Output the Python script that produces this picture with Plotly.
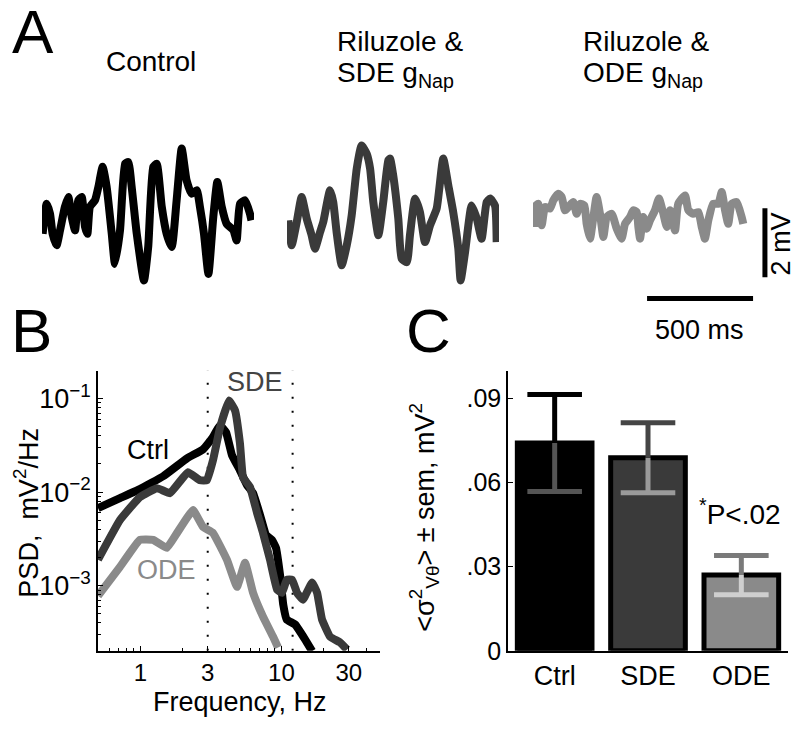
import plotly.graph_objects as go

# The page body keeps its default 8px margin; the figure fills the visible page.
# Positions below are written in reference-picture pixels and converted.
WIN_W, OFF = 800, 8
VIEW_H = 745          # page height that ends up shown as 730 px
REF_H = 730
W, H = WIN_W - 2 * OFF, VIEW_H - 2 * OFF
FONT = "Liberation Sans, Arial, Helvetica, sans-serif"


def px(x):
    return (x - OFF) / W


def py(y):
    return 1 - (y * VIEW_H / REF_H - OFF) / H


# ---------------- Panel A: example traces (time in ms, voltage in mV) -------------
CTRL_T = [3, 22, 38, 50, 69, 85, 108, 124, 140, 156, 171, 187, 203, 214, 226, 250, 266, 286,
          305, 329, 344, 368, 392, 407, 423, 447, 481, 501, 525, 541, 565, 588, 612, 635, 659,
          682, 706, 730, 745, 764, 785, 808, 827, 848, 871, 903, 918, 934, 958, 981, 988]
CTRL_V = [-0.39, 0.48, 0.19, -0.39, -0.72, -0.29, 0.39, 0.68, 0.10, -0.29, 0.58, 0.68, -0.19,
          -0.39, 0.39, 0.58, 0.97, 1.55, 0.97, -0.39, -1.26, -0.29, 1.64, 1.69, 0.97, -0.39,
          -1.74, -0.77, 1.55, 1.64, 0.39, -0.39, -0.77, 0.58, 2.08, 1.16, 0.77, 0.87, 0.39,
          -0.39, -1.55, 0.10, 1.11, 0.39, -0.10, -0.29, -0.58, 0.48, 0.58, 0.19, 0.00]

SDE_T = [6, 22, 46, 69, 93, 116, 132, 156, 171, 203, 218, 234, 258, 282, 305, 329, 352, 376,
         392, 407, 431, 454, 478, 486, 501, 525, 541, 565, 580, 604, 627, 651, 675, 706, 737,
         761, 784, 808, 819, 840, 871, 895, 918, 942, 958, 981, 989]
SDE_V = [0.00, -0.72, -0.05, 0.68, 0.05, -0.43, -0.82, -0.34, -0.05, 0.87, 0.53, -0.34, -1.30,
         -0.72, 0.14, 1.50, 2.17, 1.93, 1.50, 0.53, -0.43, 0.53, 1.74, 1.79, 1.30, 0.05, -1.11,
         -1.21, -0.43, 0.63, 0.24, -0.63, -0.14, 0.34, 1.79, 1.01, 0.24, -0.82, -1.74, -0.92,
         0.43, 0.05, -0.53, 0.53, 0.63, 0.43, -0.63]

ODE_T = [6, 9, 25, 41, 57, 80, 96, 119, 135, 151, 167, 190, 206, 222, 242, 253, 269, 285, 300,
         316, 332, 348, 371, 395, 418, 434, 458, 473, 489, 497, 505, 520, 536, 552, 575, 594,
         615, 631, 646, 670, 685, 717, 733, 756, 780, 796, 811, 827, 850, 874, 890, 906, 921,
         937, 961, 984, 992]
ODE_V = [-0.19, 0.39, 0.48, -0.14, 0.39, 0.34, 0.58, 0.77, 0.68, 0.29, 0.39, 0.53, 0.19, 0.48,
         0.43, -0.10, -0.53, 0.10, 0.68, 0.19, -0.48, 0.10, 0.19, -0.24, -0.53, -0.10, 0.10,
         0.29, 0.24, -0.19, -0.53, 0.10, -0.24, 0.00, 0.29, 0.63, 0.19, -0.19, 0.29, -0.29,
         0.48, 0.72, 0.29, 0.19, 0.24, -0.19, -0.53, 0.00, 0.48, 0.48, 0.82, 0.29, -0.10, 0.48,
         0.53, 0.10, -0.10]

SCALE_MS = 500   # horizontal scale bar length
SCALE_MV = 2     # vertical scale bar length

# ---------------- Panel B: power spectra ----------------
CTRL_F = [0.5, 0.716, 0.99, 1.45, 2.14, 2.78, 3.22, 3.67, 4.05, 4.46, 5.08, 5.70, 6.29, 7.05,
          7.77, 8.57, 9.15, 9.77, 10.3, 10.9, 12.5, 14.7, 16.5]
CTRL_P = [0.00676, 0.00863, 0.01076, 0.01479, 0.0230, 0.0287, 0.0375, 0.0516, 0.0435, 0.0248,
          0.0171, 0.0119, 0.00975, 0.00569, 0.00349, 0.00309, 0.00254, 0.00131, 0.000628,
          0.000435, 0.000385, 0.000267, 0.0002]

SDE_F = [0.5, 0.716, 0.99, 1.31, 1.62, 2.17, 2.64, 2.96, 3.27, 3.67, 4.25, 4.69, 5.08, 5.34,
         5.99, 6.72, 7.40, 8.30, 9.31, 10.1, 10.9, 11.9, 12.9, 14.2, 16.5, 17.9, 19.4, 22.1,
         26.0, 29.2]
SDE_P = [0.0019, 0.00504, 0.00885, 0.01104, 0.00975, 0.0163, 0.0134, 0.0134, 0.0219, 0.0491,
         0.0952, 0.0745, 0.0332, 0.0144, 0.0113, 0.00598, 0.00367, 0.00189, 0.000906,
         0.000843, 0.00116, 0.00116, 0.000843, 0.00071, 0.00108, 0.000843, 0.000435,
         0.000286, 0.000248, 0.000208]

ODE_F = [0.5, 0.716, 0.99, 1.23, 1.54, 1.82, 2.36, 2.78, 3.27, 4.11, 4.84, 5.52, 6.29, 7.40,
         8.71, 9.46]
ODE_P = [0.00078, 0.00159, 0.00309, 0.00309, 0.00254, 0.00367, 0.00644, 0.00425, 0.00367,
         0.00189, 0.000975, 0.00176, 0.000843, 0.000468, 0.000286, 0.000219]

BAND_F = [3, 12]          # dotted theta-band markers
B_XTICKS = [1, 3, 10, 30]
B_XTEXT = ["1", "3", "10", "30"]
B_YTICKS = [1e-3, 1e-2, 1e-1]
B_YTEXT = ["10<sup>\u22123</sup>", "10<sup>\u22122</sup>", "10<sup>\u22121</sup>"]

# ---------------- Panel C: variance bars ----------------
CATS = ["Ctrl", "SDE", "ODE"]
MEANS = [0.0741, 0.0689, 0.0270]
SEMS = [0.0173, 0.0125, 0.0070]
C_YTICKS = [0, 0.03, 0.06, 0.09]
C_YTEXT = ["0", ".03", ".06", ".09"]

# styles
COL_CTRL, COL_SDE, COL_ODE = "#000000", "#3a3a3a", "#8a8a8a"
BAR_COLORS = [COL_CTRL, COL_SDE, COL_ODE]
ERR_UP_COLORS = ["#000000", "#454545", "#7a7a7a"]
ERR_DN_COLORS = ["#555555", "#9a9a9a", "#cfcfcf"]

fig = go.Figure()

# ---- Panel A traces
A_LW = 8
A_LINE = dict(width=A_LW, shape="spline", smoothing=0.5)
fig.add_trace(go.Scatter(x=CTRL_T, y=CTRL_V, mode="lines", line=dict(color=COL_CTRL, **A_LINE),
                         xaxis="x", yaxis="y"))
fig.add_trace(go.Scatter(x=SDE_T, y=SDE_V, mode="lines", line=dict(color=COL_SDE, **A_LINE),
                         xaxis="x2", yaxis="y"))
fig.add_trace(go.Scatter(x=ODE_T, y=ODE_V, mode="lines", line=dict(color=COL_ODE, **A_LINE),
                         xaxis="x3", yaxis="y"))

# scale bars (placed in ODE trace axis coordinates)
SB_T0, SB_V0 = 538, -2.26
SBV_T, SBV_V0 = 1094, -1.65
fig.add_trace(go.Scatter(x=[SB_T0, SB_T0 + SCALE_MS], y=[SB_V0, SB_V0], mode="lines",
                         line=dict(color="black", width=5), xaxis="x3", yaxis="y"))
fig.add_trace(go.Scatter(x=[SBV_T, SBV_T], y=[SBV_V0, SBV_V0 + SCALE_MV], mode="lines",
                         line=dict(color="black", width=5), xaxis="x3", yaxis="y"))

# ---- Panel B
B_YR = [-3.695, -0.70]
for f in BAND_F:
    fig.add_trace(go.Scatter(x=[f, f], y=[10 ** B_YR[0], 10 ** B_YR[1]], mode="lines",
                             line=dict(color="black", width=2, dash="2px,12px"),
                             xaxis="x4", yaxis="y2"))
B_LINE = dict(width=8, shape="spline", smoothing=0.3)
fig.add_trace(go.Scatter(x=ODE_F, y=ODE_P, mode="lines", line=dict(color=COL_ODE, **B_LINE),
                         xaxis="x4", yaxis="y2"))
fig.add_trace(go.Scatter(x=CTRL_F, y=CTRL_P, mode="lines", line=dict(color=COL_CTRL, **B_LINE),
                         xaxis="x4", yaxis="y2"))
fig.add_trace(go.Scatter(x=SDE_F, y=SDE_P, mode="lines", line=dict(color=COL_SDE, **B_LINE),
                         xaxis="x4", yaxis="y2"))

# ---- Panel C
fig.add_trace(go.Bar(x=CATS, y=MEANS, width=0.8,
                     marker=dict(color=BAR_COLORS, line=dict(color="black", width=5)),
                     xaxis="x5", yaxis="y3"))
CAP = 39  # line-ew marker size (cap length = 1.4*size)
for c, m, s, cu, cd in zip(CATS, MEANS, SEMS, ERR_UP_COLORS, ERR_DN_COLORS):
    # lower half (inside the bar)
    fig.add_trace(go.Scatter(
        x=[c], y=[m - s], mode="markers",
        marker=dict(symbol="line-ew-open", size=CAP, color=cd, line=dict(color=cd, width=5)),
        error_y=dict(type="data", symmetric=False, array=[s], arrayminus=[0], width=0,
                     thickness=5, color=cd),
        xaxis="x5", yaxis="y3"))
    # upper half
    fig.add_trace(go.Scatter(
        x=[c], y=[m + s], mode="markers",
        marker=dict(symbol="line-ew-open", size=CAP, color=cu, line=dict(color=cu, width=5)),
        error_y=dict(type="data", symmetric=False, array=[0], arrayminus=[s], width=0,
                     thickness=5, color=cu),
        xaxis="x5", yaxis="y3"))

# ---------------- layout ----------------
A_YR = [-(330 - 220) / 34.5, (220 - 130) / 34.5]
hidden = dict(visible=False, fixedrange=True)

B_XMINOR = [0.5, 0.6, 0.7, 0.8, 0.9, 2, 4, 5, 6, 7, 8, 9, 20, 40, 50]
B_YMINOR = [k * 10 ** e for e in [-4, -3, -2, -1] for k in range(2, 10)
            if 10 ** B_YR[0] <= k * 10 ** e <= 10 ** B_YR[1]]

fig.update_layout(
    width=W, height=H, margin=dict(l=0, r=0, t=0, b=0),
    paper_bgcolor="white", plot_bgcolor="rgba(0,0,0,0)", showlegend=False,
    font=dict(family=FONT, color="black", size=26),
    xaxis=dict(domain=[px(42), px(254)], range=[0, 1000], anchor="y", **hidden),
    xaxis2=dict(domain=[px(287), px(499)], range=[0, 1000], anchor="y", **hidden),
    xaxis3=dict(domain=[px(533), px(792)], range=[0, 259 / 0.212], anchor="y", **hidden),
    yaxis=dict(domain=[py(330), py(130)], range=A_YR, anchor="x", **hidden),
    xaxis4=dict(domain=[px(98), px(380)], type="log", range=[-0.301, 1.699], anchor="y2",
                showline=True, linecolor="black", linewidth=1.5, showgrid=False, zeroline=False,
                tickmode="array", tickvals=B_XTICKS, ticktext=B_XTEXT, ticks="inside",
                ticklen=5, tickcolor="black", tickfont=dict(size=24), fixedrange=True,
                minor=dict(tickmode="array", tickvals=B_XMINOR, ticks="inside", ticklen=3,
                           tickcolor="black", showgrid=False)),
    yaxis2=dict(domain=[py(650), py(370)], type="log", range=B_YR, anchor="x4",
                showline=True, linecolor="black", linewidth=1.5, showgrid=False, zeroline=False,
                tickmode="array", tickvals=B_YTICKS, ticktext=B_YTEXT, ticks="inside",
                ticklen=5, tickcolor="black", tickfont=dict(size=27), fixedrange=True,
                minor=dict(tickmode="array", tickvals=B_YMINOR, ticks="inside", ticklen=3,
                           tickcolor="black", showgrid=False)),
    xaxis5=dict(domain=[px(508), px(788)], range=[-0.5, 2.5], anchor="y3", type="category",
                showline=True, linecolor="black", linewidth=1.5, showgrid=False, ticks="",
                tickfont=dict(size=27), fixedrange=True),
    yaxis3=dict(domain=[py(650), py(370)], range=[0, 0.1], anchor="x5",
                showline=True, linecolor="black", linewidth=1.5, showgrid=False, zeroline=False,
                tickmode="array", tickvals=C_YTICKS, ticktext=C_YTEXT, ticks="inside",
                ticklen=5, tickcolor="black", tickfont=dict(size=25), fixedrange=True),
)


def note(text, x, y, size=27, color="black", xanchor="center", yanchor="middle", angle=0):
    fig.add_annotation(text=text, x=px(x), y=py(y), xref="paper", yref="paper",
                       showarrow=False, xanchor=xanchor, yanchor=yanchor, textangle=angle,
                       font=dict(size=size, color=color, family=FONT))


# panel letters
note("A", 10, 31, size=62, xanchor="left")
note("B", 9, 330, size=62, xanchor="left")
note("C", 404, 330, size=62, xanchor="left")

# panel A titles
note("Control", 151, 61, size=28)
note("Riluzole &amp;", 335, 41, size=28, xanchor="left")
note("SDE g<sub>Nap</sub>", 335, 74, size=28, xanchor="left")
note("Riluzole &amp;", 581, 41, size=28, xanchor="left")
note("ODE g<sub>Nap</sub>", 581, 74, size=28, xanchor="left")
note("2 mV", 781, 244, size=27, angle=-90)
note("500 ms", 699, 330, size=27)

# panel B labels
note("SDE", 255, 381, size=27, color="#444444")
note("Ctrl", 148, 449, size=27)
note("ODE", 166, 569, size=27, color=COL_ODE)
note("PSD,  mV<sup>2</sup>/Hz", 26, 512, size=27, angle=-90)
note("Frequency, Hz", 240, 701, size=27)

# panel C labels
note("&lt;\u03c3<sup>2</sup><sub>V\u03b8</sub>&gt; \u00b1 sem, mV<sup>2</sup>", 424, 517, size=27, angle=-90)
note("<sup>*</sup>P&lt;.02", 697, 511, size=28, xanchor="left")

fig.write_html("out.html")
